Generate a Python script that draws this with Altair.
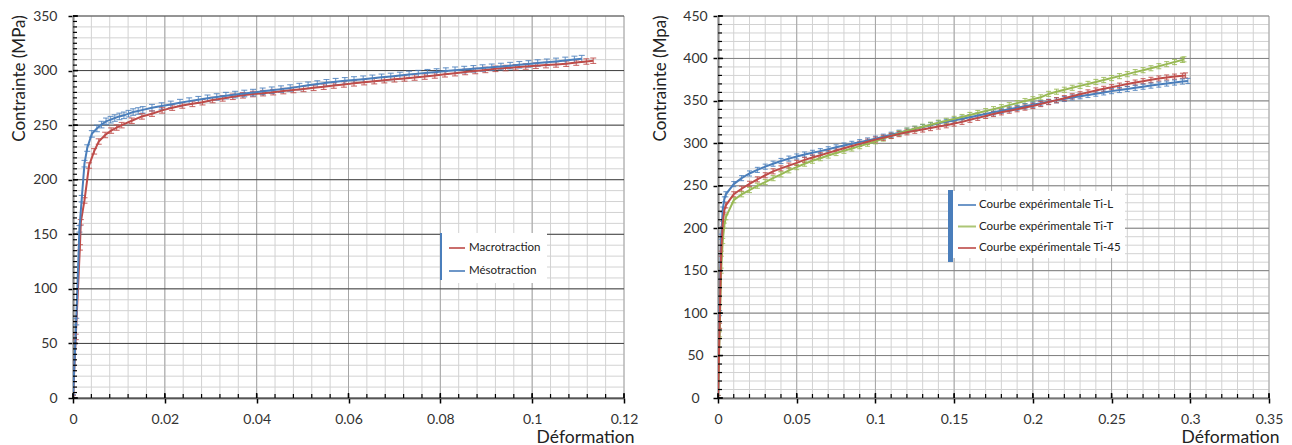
import altair as alt
import pandas as pd

# ---------------- Left panel : Macro / Méso traction ----------------
MACRO_X = [0, 0.0006, 0.0015, 0.0017, 0.0025, 0.0035, 0.0046, 0.0056, 0.007, 0.0083, 0.0095,
           0.0106, 0.0128, 0.015, 0.0172, 0.0194, 0.0216, 0.0238, 0.026, 0.0282, 0.0304,
           0.0326, 0.0348, 0.037, 0.0392, 0.0414, 0.0436, 0.0458, 0.048, 0.0502, 0.0524,
           0.0546, 0.0568, 0.059, 0.0612, 0.0634, 0.0656, 0.0678, 0.07, 0.0722, 0.0744,
           0.0766, 0.0788, 0.081, 0.0832, 0.0854, 0.0876, 0.0898, 0.092, 0.0942, 0.0964,
           0.0986, 0.1008, 0.103, 0.1052, 0.1074, 0.1096, 0.1118, 0.1133]
MACRO_Y = [0, 56, 138, 161, 181, 213, 226, 235, 241, 245, 247.8,
           250, 254, 258, 260.5, 263.5, 266, 268, 269.5, 271, 273,
           274.5, 276, 277.3, 278.5, 279.3, 280.2, 281.2, 282.2, 283.2, 284.2,
           285.2, 286.3, 287.3, 288.3, 289.4, 290.3, 291.2, 292, 292.8, 293.6,
           294.5, 295.5, 296.6, 297.6, 298.7, 299.6, 300.6, 301.6, 302.3, 303,
           303.7, 304.4, 305, 305.6, 306.3, 307.3, 308.3, 309]
MESO_X = [0, 0.0007, 0.0014, 0.0019, 0.0025, 0.0031, 0.0041, 0.0052, 0.0062, 0.0072,
          0.0082, 0.0091, 0.0101, 0.0111, 0.0121, 0.0131, 0.0142, 0.0152, 0.0172, 0.0193,
          0.0213, 0.0233, 0.0253, 0.0273, 0.0293, 0.0313, 0.0333, 0.0353, 0.0373, 0.0392,
          0.0413, 0.0433, 0.0453, 0.0473, 0.0493, 0.0512, 0.0532, 0.0552, 0.0572, 0.0592,
          0.0612, 0.0632, 0.0652, 0.0672, 0.0692, 0.0712, 0.0732, 0.0752, 0.0772, 0.0792,
          0.0812, 0.0832, 0.0852, 0.0872, 0.0892, 0.0912, 0.0932, 0.0952, 0.0972, 0.0992,
          0.1012, 0.1032, 0.1052, 0.1072, 0.1092, 0.1108]
MESO_Y = [0, 70, 155, 182.6, 214.7, 229, 242, 247, 250.5, 253.5,
          255, 256.5, 258, 259, 260.5, 262, 263, 264, 266, 267.5,
          269, 270.6, 272, 273.3, 274.6, 275.8, 277, 278, 279, 279.8,
          281, 282, 283, 284, 285.3, 286.5, 287.7, 288.8, 289.8, 290.6,
          291.4, 292.1, 292.9, 293.8, 294.6, 295.5, 296.4, 297.2, 298, 298.7,
          299.5, 300.3, 300.9, 301.6, 302.3, 303, 303.7, 304.5, 305.3, 306.1,
          306.9, 307.6, 308.4, 309.3, 310.2, 310.9]
MACRO_ERR = 2.5
MESO_ERR = 3.0
LEFT_NAMES = ["Macrotraction", "Mésotraction"]

# ---------------- Right panel : Ti-L / Ti-T / Ti-45 ----------------
TI_X = [0, 0.001, 0.002, 0.003, 0.004, 0.005, 0.01, 0.015, 0.02, 0.025, 0.03, 0.035, 0.04,
        0.045, 0.05, 0.055, 0.06, 0.065, 0.07, 0.075, 0.08, 0.085, 0.09, 0.095, 0.1,
        0.105, 0.11, 0.115, 0.12, 0.125, 0.13, 0.135, 0.14, 0.145, 0.15, 0.155, 0.16,
        0.165, 0.17, 0.175, 0.18, 0.185, 0.19, 0.195, 0.2, 0.205, 0.21, 0.215, 0.22,
        0.225, 0.23, 0.235, 0.24, 0.245, 0.25, 0.255, 0.26, 0.265, 0.27, 0.275, 0.28,
        0.285, 0.29, 0.295]
TIL_X = TI_X + [0.2985]
TIL_Y = [0, 100, 190, 222, 234, 240, 252, 259, 264.5, 268.7, 272.5, 276, 279.2, 282,
         284.5, 286.8, 288.8, 290.8, 293, 295.3, 297.4, 299.4, 301.4, 303.4, 305.5,
         307.8, 310.1, 312.5, 314.9, 317, 319.2, 321.3, 323.5, 325.3, 327, 329, 330.8,
         332.7, 334.6, 336.5, 338.3, 340.1, 341.9, 343.7, 345.5, 347.2, 348.9, 350.6,
         352.3, 354, 355.5, 357, 358.5, 360, 361.5, 362.8, 364.1, 365.4, 366.7, 368,
         369.2, 370.4, 371.6, 372.8, 373.5]
TIT_X = TI_X + [0.296]
TIT_Y = [0, 75, 150, 185, 203, 213, 233, 240, 245, 250, 254.4, 259, 263.5, 268.2,
         272, 276, 279.5, 282.5, 285.6, 288.6, 291.2, 293.9, 296.7, 299.5, 302.4,
         305.6, 308.8, 311.9, 315, 317.2, 319.5, 321.9, 324.3, 326.5, 328.8, 331, 333.4,
         335.7, 338, 340.3, 342.6, 345, 347.4, 349.8, 352, 354.2, 358.2, 360.8, 363.1,
         365.4, 367.7, 370, 372.3, 374.6, 376.9, 379.2, 381.5, 383.9, 386.2, 388.5,
         390.9, 393.3, 395.8, 398.3, 399]
TI45_X = TI_X + [0.297]
TI45_Y = [0, 85, 170, 205, 221, 227, 240, 246.5, 252.3, 257.6, 262.4, 267, 270.5, 273.8,
          277, 280.5, 283.3, 286, 288.8, 291.6, 294.3, 296.8, 299.4, 301.9, 304.4,
          306.5, 308.7, 310.9, 313, 314.8, 316.3, 318, 319.8, 321.3, 323.3, 325.3, 327.7,
          330, 332.3, 334.6, 336.5, 338.4, 340.2, 342.1, 344, 346.3, 348.6, 350.9, 353.2,
          355.5, 357.8, 360, 362.3, 364.2, 366.1, 368, 369.9, 371.6, 373.2, 374.8, 376.4,
          377.6, 378.6, 379.6, 380]
TIL_ERR = 3.0
TIT_ERR = 3.0
TI45_ERR = 3.0
RIGHT_NAMES = ["Courbe expérimentale Ti-L", "Courbe expérimentale Ti-T",
               "Courbe expérimentale Ti-45"]

# ---------------- Axis ticks / grid values ----------------
L_X_MAJOR = [0, 0.02, 0.04, 0.06, 0.08, 0.1, 0.12]
L_X_MINOR = [round(i * 0.004, 3) for i in range(31)]
L_Y_MAJOR = [0, 50, 100, 150, 200, 250, 300, 350]
L_Y_GRID_MINOR = list(range(0, 351, 10))
L_Y_TICK_MINOR = list(range(0, 351, 5))
R_X_MAJOR = [0, 0.05, 0.1, 0.15, 0.2, 0.25, 0.3, 0.35]
R_X_MINOR = [round(i * 0.01, 2) for i in range(36)]
R_Y_MAJOR = [0, 50, 100, 150, 200, 250, 300, 350, 400, 450]
R_Y_GRID_MINOR = list(range(0, 451, 10))
R_Y_TICK_MINOR = list(range(0, 451, 10))

BLUE = "#4a7ebb"
RED = "#be4b48"
GREEN = "#98b954"
FONT = "Lato"
W, H = 551, 382


def series_df(xs, ys, name, err, order):
    return pd.DataFrame({"x": xs, "y": ys, "series": name, "order": order,
                         "lo": [v - err for v in ys], "hi": [v + err for v in ys]})


def panel(df, names, colors, xdom, ydom, xmaj, xmin_, ymaj, ygrid_min, ytick_min,
          ytitle, hmaj_color, ytitle_x, ylab_align, ylab_pad, legend_kw, bar_kw, cap):
    xs = alt.Scale(domain=xdom, nice=False, zero=True)
    ys = alt.Scale(domain=ydom, nice=False)
    cs = alt.Scale(domain=names, range=colors)

    xaxis = alt.Axis(
        values=xmaj, format=".2~g", title="Déformation", grid=False,
        domainColor="#000", domainWidth=1.5, tickColor="#000", tickSize=5,
        tickWidth=1.5, labelPadding=9, labelFlush=False, labelOverlap=False,
        labelFont=FONT, labelFontSize=14, labelColor="#333",
        titleFont=FONT, titleFontSize=17.5, titleFontWeight="normal",
        titleColor="#222", titleX=561, titleY=44, titleAlign="right",
        titleBaseline="alphabetic")
    yaxis = alt.Axis(
        values=ymaj, format="d", title=ytitle, grid=False,
        domainColor="#000", domainWidth=1.5, tickColor="#000", tickSize=5,
        tickWidth=1.5, labelPadding=ylab_pad, labelAlign=ylab_align,
        labelFlush=False, labelOverlap=False,
        labelFont=FONT, labelFontSize=14, labelColor="#333",
        titleFont=FONT, titleFontSize=17, titleFontWeight="normal",
        titleColor="#222", titleX=ytitle_x, titleY=62, titleAngle=-90,
        titleAlign="center", titleBaseline="middle")
    legend = alt.Legend(
        title=None, orient="none", fillColor="white", symbolType="stroke",
        symbolStrokeWidth=2, labelFont=FONT, labelFontSize=11.5,
        labelColor="#222", **legend_kw)

    def X(f):
        return alt.X(f, type="quantitative", scale=xs, axis=xaxis, title="Déformation")

    def Y(f):
        return alt.Y(f, type="quantitative", scale=ys, axis=yaxis, title=ytitle)

    color = alt.Color("series:N", scale=cs, sort=names, legend=legend)

    def vals(v):
        return alt.Chart(pd.DataFrame({"v": v}))

    vminor = vals(xmin_).mark_rule(color="#d2d2d2", strokeWidth=1).encode(x=X("v"))
    hminor = vals(ygrid_min).mark_rule(color="#d2d2d2", strokeWidth=1).encode(y=Y("v"))
    vmajor = vals(xmaj).mark_rule(color="#a6a6a6", strokeWidth=1).encode(x=X("v"))
    hmajor = vals(ymaj).mark_rule(color=hmaj_color, strokeWidth=1).encode(y=Y("v"))

    base = alt.Chart(df)
    err_rule = base.mark_rule(strokeWidth=1.1, opacity=0.8, clip=True).encode(
        x=X("x"), y=Y("lo"), y2="hi:Q", color=color)
    cap_lo = base.mark_tick(orient="horizontal", size=cap, thickness=1.1, opacity=0.8,
                            clip=True).encode(x=X("x"), y=Y("lo"), color=color)
    cap_hi = base.mark_tick(orient="horizontal", size=cap, thickness=1.1, opacity=0.8,
                            clip=True).encode(x=X("x"), y=Y("hi"), color=color)
    line = base.mark_line(strokeWidth=2, clip=True).encode(
        x=X("x"), y=Y("y"), color=color, detail="series:N", order="order:Q")

    xt_major = vals(xmaj).mark_rule(color="#000", strokeWidth=1.5).encode(
        x=X("v"), y=alt.value(H - 5), y2=alt.value(H))
    xt_minor = vals(xmin_).mark_rule(color="#000", strokeWidth=1.2).encode(
        x=X("v"), y=alt.value(H - 4), y2=alt.value(H))
    yt_major = vals(ymaj).mark_rule(color="#000", strokeWidth=1.5).encode(
        y=Y("v"), x=alt.value(0), x2=alt.value(5))
    yt_minor = vals(ytick_min).mark_rule(color="#000", strokeWidth=1.2).encode(
        y=Y("v"), x=alt.value(0), x2=alt.value(4))

    bar = alt.Chart(pd.DataFrame({"a": [0]})).mark_rule(
        color=BLUE, strokeWidth=bar_kw["w"]).encode(
        x=alt.value(bar_kw["x"]), y=alt.value(bar_kw["y"]), y2=alt.value(bar_kw["y2"]))

    return alt.layer(vminor, hminor, vmajor, hmajor, err_rule, cap_lo, cap_hi, line,
                     xt_major, xt_minor, yt_major, yt_minor, bar).properties(
        width=W, height=H)


left_df = pd.concat([series_df(MACRO_X, MACRO_Y, LEFT_NAMES[0], MACRO_ERR, range(len(MACRO_X))),
                     series_df(MESO_X, MESO_Y, LEFT_NAMES[1], MESO_ERR, range(len(MESO_X)))])
right_df = pd.concat([series_df(TIL_X, TIL_Y, RIGHT_NAMES[0], TIL_ERR, range(len(TIL_X))),
                      series_df(TIT_X, TIT_Y, RIGHT_NAMES[1], TIT_ERR, range(len(TIT_X))),
                      series_df(TI45_X, TI45_Y, RIGHT_NAMES[2], TI45_ERR, range(len(TI45_X)))])

left = panel(left_df, LEFT_NAMES, [RED, BLUE], [0, 0.12], [0, 350],
             L_X_MAJOR, L_X_MINOR, L_Y_MAJOR, L_Y_GRID_MINOR, L_Y_TICK_MINOR,
             "Contrainte (MPa)", "#404040", -54, "right", 11,
             dict(legendX=369, legendY=217, padding=6, symbolSize=256,
                  labelOffset=3, rowPadding=8),
             dict(x=368, y=217, y2=264, w=2), 6)

right = panel(right_df, RIGHT_NAMES, [BLUE, GREEN, RED], [0, 0.35], [0, 450],
              R_X_MAJOR, R_X_MINOR, R_Y_MAJOR, R_Y_GRID_MINOR, R_Y_TICK_MINOR,
              "Contrainte (Mpa)", "#808080", -58, "center", 18,
              dict(legendX=235, legendY=175, padding=4, symbolSize=324,
                   labelOffset=2, rowPadding=5.5),
              dict(x=232.5, y=174, y2=246, w=5), 5)

chart = alt.hconcat(left, right, spacing=13).resolve_scale(color="independent").properties(
    padding={"left": 1, "top": 1, "right": 0, "bottom": 0}
).configure_view(stroke=None)

chart.save("out.html", embed_options={"renderer": "svg", "actions": False})
